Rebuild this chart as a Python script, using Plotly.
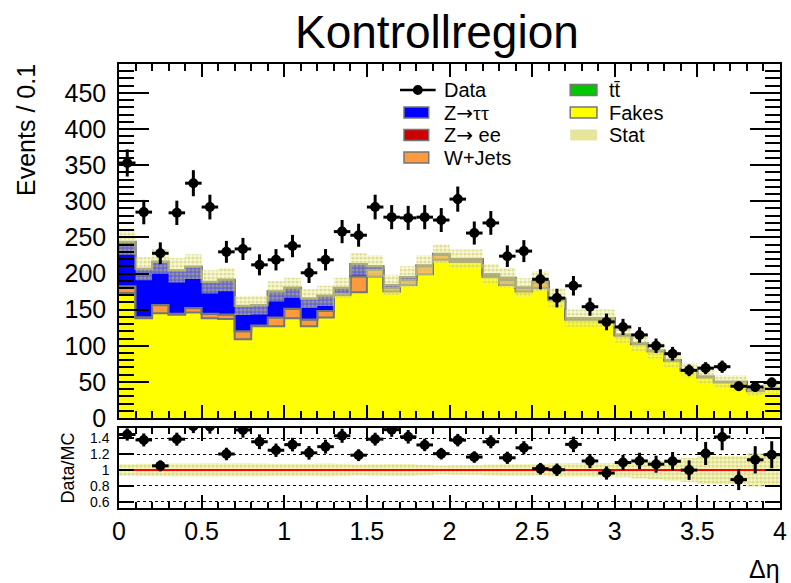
import numpy as np
import plotly.graph_objects as go

# ---- binning: 40 bins of width 0.1 in delta-eta ----
bin_edges = [round(0.1 * i, 1) for i in range(41)]
bin_centers = [round(0.1 * i + 0.05, 2) for i in range(40)]

# ---- observed events per bin ----
data = [353, 285, 228, 284, 325, 292, 230, 234, 212, 219,
        238, 201, 219, 258, 253, 292, 278, 277, 278, 274,
        303, 256, 270, 224, 231, 192, 166, 183, 154, 133,
        126, 115, 100, 89, 66, 69, 71, 44, 43, 49]

# ---- simulated / estimated contributions (stack order: bottom -> top) ----
fakes = [173, 138, 145, 143, 146, 138, 137, 109, 127, 127,
         138, 127, 139, 170, 174, 196, 175, 184, 199, 219,
         216, 216, 195, 184, 175, 180, 163, 136, 136, 136,
         114, 102, 92, 79, 65, 56, 49, 49, 37, 40]
wjets = [9, 1, 11, 1, 6, 6, 6, 11, 1, 12,
         13, 9, 9, 2, 22, 9, 5, 7, 11, 7,
         3, 3, 3, 7, 5, 8, 2, 2, 2, 2,
         1, 1, 1, 1, 1, 1, 1, 1, 1, 1]
zee = [0.5, 0.3, 0.4, 0.3, 0.3, 0.3, 0.2, 0.2, 0.2, 0.2,
       0.2, 0.2, 0.1, 0.1, 0.1, 0.1, 0.1, 0.1, 0.1, 0.1,
       0, 0, 0, 0, 0, 0, 0, 0, 0, 0,
       0, 0, 0, 0, 0, 0, 0, 0, 0, 0]
ztt = [61, 67, 60, 60, 57, 44, 48, 35, 28, 36,
       29, 29, 21, 8, 17, 5, 4, 4, 1, 1,
       1, 1, 1, 3, 0.5, 1, 0.5, 0.3, 0.3, 0.3,
       0.2, 0.2, 0.2, 0.2, 0.1, 0.1, 0.1, 0.1, 0.1, 0.1]
ttbar = [0.3, 0.3, 0.3, 0.2, 0.2, 0.2, 0.2, 0.2, 0.1, 0.1,
         0.1, 0.1, 0.1, 0.1, 0.1, 0.1, 0.1, 0.1, 0.1, 0.1,
         0.1, 0.1, 0.1, 0.1, 0, 0, 0, 0, 0, 0,
         0, 0, 0, 0, 0, 0, 0, 0, 0, 0]
# MC statistical uncertainty (absolute, events per bin)
stat_err = [18, 16, 17, 17, 17, 16, 16, 13, 13, 14,
            14, 13, 14, 14, 15, 15, 14, 15, 14, 13,
            13, 13, 14, 14, 13, 14, 14, 12, 12, 12,
            11, 11, 11, 11, 10, 10, 9, 9, 8, 8]

x_ticks = [0, 0.5, 1, 1.5, 2, 2.5, 3, 3.5, 4]
x_tick_text = ["0", "0.5", "1", "1.5", "2", "2.5", "3", "3.5", "4"]
r_ticks = [0.6, 0.8, 1.0, 1.2, 1.4]
r_tick_text = ["0.6", "0.8", "1", "1.2", "1.4"]

# ---- geometry (pixels) ----
W, H = 791, 583
L, R, T, B = 119, 787, 64, 508
MAIN_BOTTOM, RATIO_TOP = 418, 428
FONT = "Liberation Sans, Arial, Helvetica, sans-serif"
EDGE = "#767676"

ARROW = "<span style='font-family:DejaVu Sans'>\u2192</span>"
TAUTAU = "<span style='font-family:Liberation Serif'>\u03c4\u03c4</span>"


def px(xp):
    return (xp - L) / (R - L)


def py(yp):
    return (B - yp) / (B - T)


def step(vals):
    v = list(vals)
    return v + [v[-1]]


total = (np.array(fakes) + np.array(wjets) + np.array(zee)
         + np.array(ztt) + np.array(ttbar))
d = np.array(data, dtype=float)
err_data = np.sqrt(d)
s = np.array(stat_err, dtype=float)

fig = go.Figure()

# ---- stacked backgrounds ----
components = [
    ("Fakes", fakes, "#ffff00"),
    ("W+Jets", wjets, "#fc9a3c"),
    ("Z\u2192 ee", zee, "#cc0000"),
    ("Z\u2192\u03c4\u03c4", ztt, "#0000ff"),
    ("tt\u0304", ttbar, "#00c800"),
]
for name, vals, color in components:
    fig.add_trace(go.Scatter(
        x=bin_edges, y=step(vals), name=name, mode="lines",
        line=dict(shape="hv", color=EDGE, width=2),
        fillcolor=color, stackgroup="mc", showlegend=False,
        hoverinfo="skip", xaxis="x", yaxis="y"))

band_pattern = dict(shape=".", fgcolor="rgba(195,195,95,1)", size=4,
                    solidity=0.5, fillmode="overlay")

# ---- MC stat band on the stack ----
fig.add_trace(go.Scatter(
    x=bin_edges, y=step(total - s), mode="lines",
    line=dict(shape="hv", width=0, color="rgba(0,0,0,0)"),
    showlegend=False, hoverinfo="skip", xaxis="x", yaxis="y"))
fig.add_trace(go.Scatter(
    x=bin_edges, y=step(total + s), mode="lines", name="Stat",
    line=dict(shape="hv", width=0, color="rgba(0,0,0,0)"),
    fill="tonexty", fillcolor="rgba(240,240,150,0.42)",
    fillpattern=band_pattern,
    showlegend=False, hoverinfo="skip", xaxis="x", yaxis="y"))

# ---- data ----
fig.add_trace(go.Scatter(
    x=bin_centers, y=data, mode="markers", name="Data",
    marker=dict(size=10, color="black"),
    error_y=dict(type="data", array=err_data, thickness=3, width=0, color="black"),
    error_x=dict(type="constant", value=0.05, thickness=3, width=0, color="black"),
    showlegend=False, xaxis="x", yaxis="y"))

# ---- ratio panel ----
rel = s / total
fig.add_trace(go.Scatter(
    x=bin_edges, y=step(1 - rel), mode="lines",
    line=dict(shape="hv", width=0, color="rgba(0,0,0,0)"),
    showlegend=False, hoverinfo="skip", xaxis="x2", yaxis="y2"))
fig.add_trace(go.Scatter(
    x=bin_edges, y=step(1 + rel), mode="lines",
    line=dict(shape="hv", width=0, color="rgba(0,0,0,0)"),
    fill="tonexty", fillcolor="rgba(235,235,120,0.5)",
    fillpattern=band_pattern,
    showlegend=False, hoverinfo="skip", xaxis="x2", yaxis="y2"))
fig.add_trace(go.Scatter(
    x=[0, 4], y=[1, 1], mode="lines",
    line=dict(color="#ff0000", width=2),
    showlegend=False, hoverinfo="skip", xaxis="x2", yaxis="y2"))
fig.add_trace(go.Scatter(
    x=bin_centers, y=d / total, mode="markers",
    marker=dict(size=10, color="black"),
    error_y=dict(type="data", array=err_data / total, thickness=3, width=0, color="black"),
    error_x=dict(type="constant", value=0.05, thickness=3, width=0, color="black"),
    showlegend=False, xaxis="x2", yaxis="y2"))

main_dom = [py(MAIN_BOTTOM), 1]
ratio_dom = [0, py(RATIO_TOP)]

axis_common = dict(showline=True, linecolor="black", linewidth=1.5,
                   mirror="ticks", ticks="inside", tickcolor="black",
                   tickwidth=1.5, zeroline=False, showgrid=False)

fig.update_layout(
    width=W, height=H,
    margin=dict(l=L, r=W - R, t=T, b=H - B, pad=0),
    paper_bgcolor="white", plot_bgcolor="white",
    font=dict(family=FONT, color="black"),
    showlegend=False,
    xaxis=dict(domain=[0, 1], range=[0, 4], anchor="y",
               tickvals=x_ticks, showticklabels=False, ticklen=13,
               minor=dict(dtick=0.1, ticklen=7, ticks="inside",
                          tickcolor="black", tickwidth=1.5),
               **axis_common),
    yaxis=dict(domain=main_dom, range=[0, 490], anchor="x",
               dtick=50, ticklen=30,
               tickfont=dict(size=25, family=FONT),
               ticklabelstandoff=6,
               minor=dict(dtick=10, ticklen=15, ticks="inside",
                          tickcolor="black", tickwidth=1.5),
               **axis_common),
    xaxis2=dict(domain=[0, 1], range=[0, 4], anchor="y2", matches="x",
                tickvals=x_ticks, ticktext=x_tick_text, ticklen=13,
                tickfont=dict(size=25, family=FONT),
                ticklabeloverflow="allow",
                minor=dict(dtick=0.1, ticklen=6, ticks="inside",
                           tickcolor="black", tickwidth=1.5),
                **axis_common),
    yaxis2=dict(domain=ratio_dom, range=[0.52, 1.53], anchor="x2",
                tickvals=r_ticks, ticktext=r_tick_text, ticklen=15,
                tickfont=dict(size=14, family=FONT),
                ticklabelstandoff=5,
                showline=True, linecolor="black", linewidth=1.5,
                mirror="ticks", ticks="inside", tickcolor="black",
                tickwidth=1.5, zeroline=False,
                showgrid=True, gridcolor="black", gridwidth=1,
                griddash="dot"),
)

annotations = [
    dict(text="Kontrollregion", x=px(440), y=py(32), xref="paper", yref="paper",
         xanchor="center", yanchor="middle", showarrow=False,
         font=dict(size=46, family=FONT)),
    dict(text="Events / 0.1", x=px(25), y=py(130), xref="paper", yref="paper",
         xanchor="center", yanchor="middle", textangle=-90, showarrow=False,
         font=dict(size=25, family=FONT)),
    dict(text="Data/MC", x=px(67), y=py(468), xref="paper", yref="paper",
         xanchor="center", yanchor="middle", textangle=-90, showarrow=False,
         font=dict(size=18, family=FONT)),
    dict(text="\u0394\u03b7", x=px(789), y=py(569), xref="paper", yref="paper",
         xanchor="right", yanchor="middle", showarrow=False,
         font=dict(size=25, family=FONT)),
]

# ---- legend ----
shapes = []
row_y = [90, 112.5, 135, 157.5]
col1_box, col2_box = (407, 432), (575, 602)
col1_txt, col2_txt = 445, 612
box_h = 11

legend_boxes = [
    (col1_box, col1_txt, row_y[1], "Z" + ARROW + TAUTAU, "#0000ff", EDGE),
    (col1_box, col1_txt, row_y[2], "Z" + ARROW + " ee", "#cc0000", EDGE),
    (col1_box, col1_txt, row_y[3], "W+Jets", "#fc9a3c", EDGE),
    (col2_box, col2_txt, row_y[0], "tt\u0304", "#00c800", EDGE),
    (col2_box, col2_txt, row_y[1], "Fakes", "#ffff00", EDGE),
    (col2_box, col2_txt, row_y[2], "Stat", "rgba(222,222,130,0.8)", None),
]
for (bx0, bx1), tx, ry, label, color, edge in legend_boxes:
    shapes.append(dict(type="rect", xref="paper", yref="paper",
                       x0=px(bx0), x1=px(bx1),
                       y0=py(ry + box_h / 2), y1=py(ry - box_h / 2),
                       fillcolor=color,
                       line=dict(color=edge if edge else "rgba(0,0,0,0)",
                                 width=1.5 if edge else 0)))
    annotations.append(dict(text=label, x=px(tx), y=py(ry), xref="paper",
                            yref="paper", xanchor="left", yanchor="middle",
                            showarrow=False, font=dict(size=20, family=FONT)))

# Data entry: line through a filled circle
shapes.append(dict(type="line", xref="paper", yref="paper",
                   x0=px(403), x1=px(439), y0=py(row_y[0]), y1=py(row_y[0]),
                   line=dict(color="black", width=2.5)))
shapes.append(dict(type="circle", xref="paper", yref="paper",
                   x0=px(416), x1=px(426), y0=py(row_y[0] + 5), y1=py(row_y[0] - 5),
                   fillcolor="black", line=dict(color="black", width=0)))
annotations.append(dict(text="Data", x=px(col1_txt), y=py(row_y[0]), xref="paper",
                        yref="paper", xanchor="left", yanchor="middle",
                        showarrow=False, font=dict(size=20, family=FONT)))

fig.update_layout(annotations=annotations, shapes=shapes)

fig.write_html("out.html")
